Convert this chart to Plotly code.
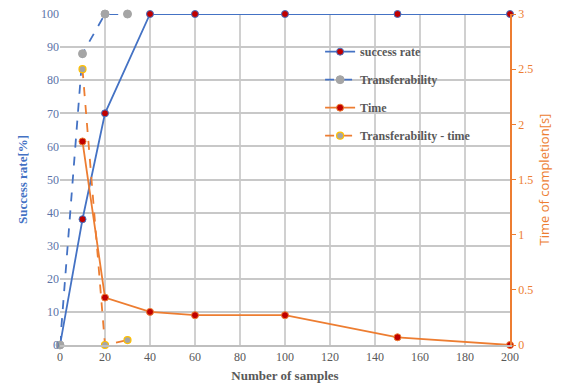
import plotly.graph_objects as go

samples = [0, 10, 20, 40, 60, 100, 150, 200]
success_rate = [0, 38, 70, 100, 100, 100, 100, 100]

transfer_x = [0, 10, 20, 30]
transferability = [0, 88, 100, 100]

time_x = [10, 20, 40, 60, 100, 150, 200]
time_s = [1.845, 0.43, 0.30, 0.27, 0.27, 0.07, 0.0]

ttime_x = [10, 20, 30]
transfer_time = [2.5, 0.0, 0.045]

BLUE = "#4472C4"
ORANGE = "#ED7D31"
RED = "#C00000"
GRAY = "#A5A5A5"
GOLD = "#FFC000"
SERIF = "Liberation Serif, DejaVu Serif, serif"

fig = go.Figure()
fig.add_trace(go.Scatter(x=samples, y=success_rate, name="success rate", mode="lines+markers",
                         legendgroup="a", cliponaxis=False,
                         line=dict(color=BLUE, width=1.8),
                         marker=dict(size=7, color=RED, line=dict(color=BLUE, width=1))))
fig.add_trace(go.Scatter(x=transfer_x, y=transferability, name="Transferability", mode="lines+markers",
                         legendgroup="b", cliponaxis=False,
                         line=dict(color=BLUE, width=1.8, dash="dash"),
                         marker=dict(size=8, color=GRAY, line=dict(color=GRAY, width=1))))
fig.add_trace(go.Scatter(x=time_x, y=time_s, name="Time", mode="lines+markers", yaxis="y2",
                         legendgroup="c", cliponaxis=False,
                         line=dict(color=ORANGE, width=1.8),
                         marker=dict(size=7, color=RED, line=dict(color=ORANGE, width=1))))
fig.add_trace(go.Scatter(x=ttime_x, y=transfer_time, name="Transferability - time", mode="lines+markers",
                         yaxis="y2", legendgroup="d", cliponaxis=False,
                         line=dict(color=ORANGE, width=1.8, dash="dash"),
                         marker=dict(size=7, color=GRAY, line=dict(color=GOLD, width=1.2))))

fig.update_layout(
    width=561, height=384,
    margin=dict(l=52, r=59, t=6, b=47, autoexpand=False),
    plot_bgcolor="white", paper_bgcolor="white",
    font=dict(family=SERIF, size=12, color="#595959"),
    xaxis=dict(range=[0, 200], dtick=20, showgrid=True, gridcolor="#D0D0D0", gridwidth=1.5,
               showline=True, linecolor="#BFBFBF", linewidth=1.5, zeroline=False, automargin=False,
               ticklabeloverflow="allow",
               tickfont=dict(family=SERIF, size=12, color="#595959"),
               title=dict(text="<b>Number of samples</b>", standoff=8,
                          font=dict(family=SERIF, size=13, color="#595959"))),
    yaxis=dict(range=[0, 100], dtick=10, showgrid=True, gridcolor="#C8C8C8", gridwidth=1.5,
               zeroline=False, showline=False, automargin=False, ticklabeloverflow="allow",
               tickfont=dict(family=SERIF, size=12, color="#5B73A8"),
               title=dict(text="<b>Success rate[%]</b>", standoff=10,
                          font=dict(family=SERIF, size=13, color=BLUE))),
    yaxis2=dict(range=[0, 3], dtick=0.5, overlaying="y", side="right", showgrid=False,
                zeroline=False, showline=True, linecolor=ORANGE, linewidth=1.5, automargin=False,
                ticklabeloverflow="allow",
                ticks="outside", ticklen=4, tickcolor=ORANGE,
                tickfont=dict(family=SERIF, size=12, color=ORANGE),
                title=dict(text="Time of completion[s]", standoff=8,
                           font=dict(family="Open Sans", size=13, color=ORANGE))),
    legend=dict(x=0.578, y=0.93, xanchor="left", yanchor="top", bgcolor="rgba(0,0,0,0)",
                font=dict(family=SERIF, size=12, color="#595959"), tracegroupgap=9,
                itemwidth=30),
    showlegend=True,
)
for tr in fig.data:
    tr.name = "<b>" + tr.name + "</b>"

fig.write_html("out.html")
